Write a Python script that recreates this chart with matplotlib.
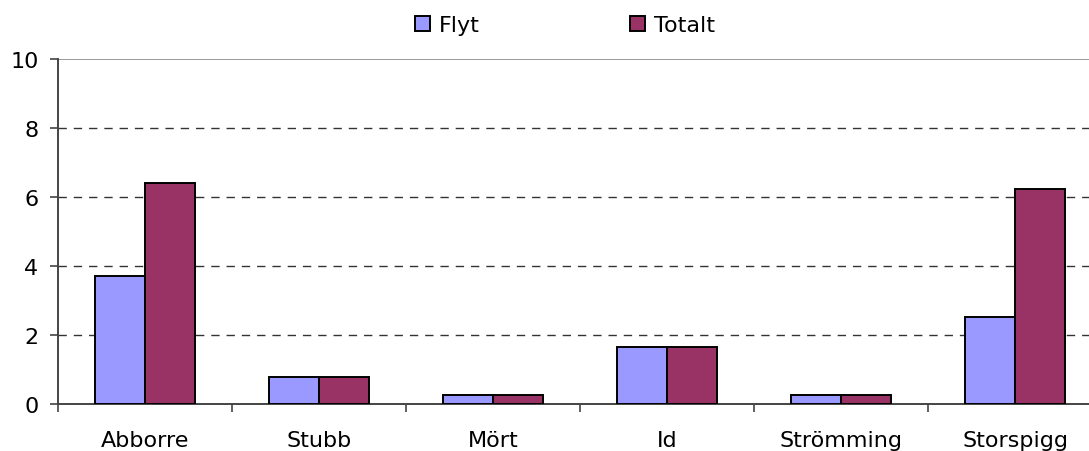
import numpy as np
import matplotlib.pyplot as plt

plt.rcParams['font.family'] = ['DejaVu Sans']

categories = ['Abborre', 'Stubb', 'Mört', 'Id', 'Strömming', 'Storspigg']
flyt = [3.72, 0.78, 0.26, 1.65, 0.26, 2.52]
totalt = [6.4, 0.78, 0.26, 1.65, 0.26, 6.23]
yticks = [0, 2, 4, 6, 8, 10]

fig = plt.figure(figsize=(10.89, 4.52), dpi=100)
ax = fig.add_axes([58 / 1089, 1 - 405 / 452, 1044 / 1089, 345 / 452])

x = np.arange(len(categories))
w = 0.2875
ax.bar(x - w / 2, flyt, w, color='#9999FF', edgecolor='black', linewidth=1.4,
       label='Flyt', zorder=3)
ax.bar(x + w / 2, totalt, w, color='#993366', edgecolor='black', linewidth=1.4,
       label='Totalt', zorder=3)

ax.set_xlim(-0.5, len(categories) - 0.5)
ax.set_ylim(0, 10)
ax.set_yticks(yticks)
ax.set_yticklabels([str(v) for v in yticks], fontsize=16)
for v in yticks[1:-1]:
    ax.axhline(v, color='#333333', linestyle=(0, (6, 5)), linewidth=1, zorder=1)
ax.axhline(10, color='#888888', linewidth=1.2, zorder=1)

ax.set_xticks(x)
ax.set_xticklabels(categories, fontsize=16)
ax.tick_params(axis='x', length=0, pad=19)
ax.set_xticks(np.arange(len(categories) + 1) - 0.5, minor=True)
ax.tick_params(axis='x', which='minor', length=6, width=1.2, color='#444444')
ax.tick_params(axis='y', length=6, width=1.2, color='#444444', pad=8)

for s in ['top', 'right']:
    ax.spines[s].set_visible(False)
for s in ['left', 'bottom']:
    ax.spines[s].set_color('#444444')
    ax.spines[s].set_linewidth(1.4)

fig.legend(loc='center', bbox_to_anchor=(565 / 1089, 1 - 26 / 452), ncol=2,
           frameon=False, fontsize=16, handlelength=0.65, handleheight=0.65,
           handletextpad=0.4, columnspacing=6.8)

fig.savefig('out.png', dpi=100)
